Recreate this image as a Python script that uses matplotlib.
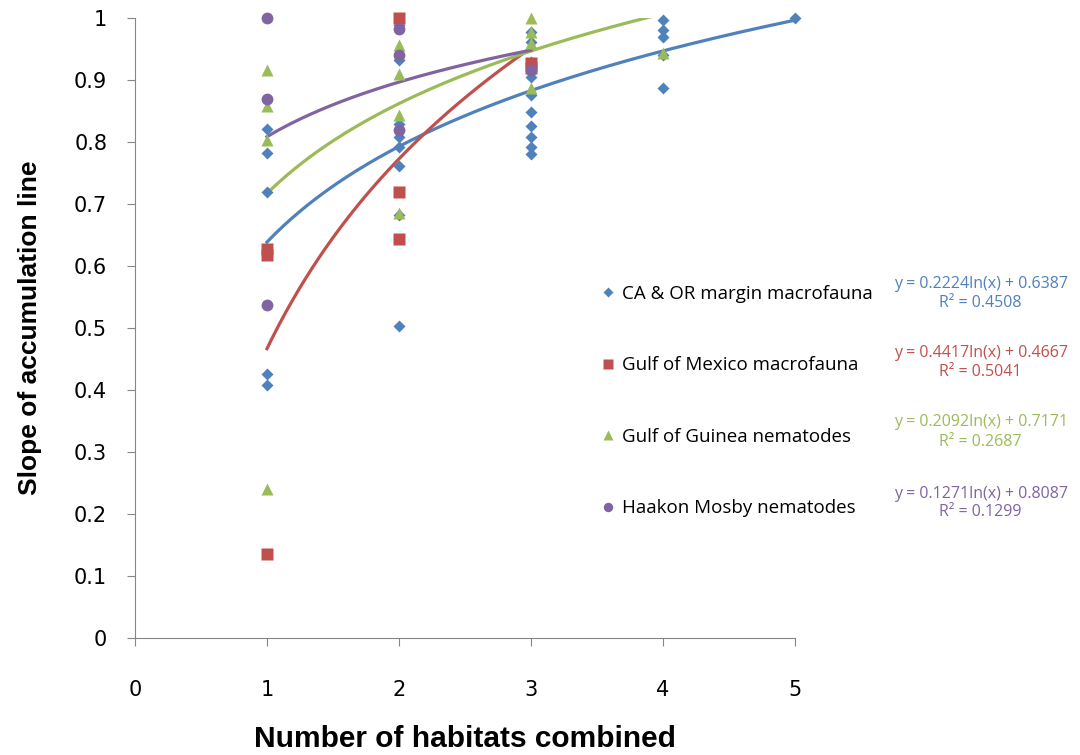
import matplotlib
matplotlib.use("Agg")
import matplotlib.pyplot as plt
import numpy as np

# scatter data: number of habitats combined vs slope of accumulation line
ca_x = [1, 1, 1, 1, 1,
        2, 2, 2, 2, 2, 2, 2, 2,
        3, 3, 3, 3, 3, 3, 3, 3, 3, 3,
        4, 4, 4, 4, 4,
        5]
ca_y = [0.821, 0.782, 0.72, 0.426, 0.408,
        0.989, 0.932, 0.829, 0.809, 0.792, 0.762, 0.683, 0.503,
        0.978, 0.962, 0.93, 0.905, 0.876, 0.848, 0.826, 0.809, 0.792, 0.78,
        0.997, 0.981, 0.969, 0.94, 0.887,
        1.0]

gm_x = [1, 1, 1, 2, 2, 2, 3, 3]
gm_y = [0.628, 0.618, 0.135, 1.0, 0.72, 0.644, 0.927, 0.92]

gg_x = [1, 1, 1, 1, 2, 2, 2, 2, 3, 3, 3, 3, 4]
gg_y = [0.917, 0.858, 0.803, 0.241, 0.956, 0.91, 0.844, 0.686,
        1.0, 0.978, 0.96, 0.888, 0.943]

hm_x = [1, 1, 1, 2, 2, 2, 3]
hm_y = [1.0, 0.869, 0.537, 0.982, 0.94, 0.82, 0.916]

labels = ["CA & OR margin macrofauna", "Gulf of Mexico macrofauna",
          "Gulf of Guinea nematodes", "Haakon Mosby nematodes"]
# log trendline coefficients (slope, intercept, R2, x end)
fit_a = [0.2224, 0.4417, 0.2092, 0.1271]
fit_b = [0.6387, 0.4667, 0.7171, 0.8087]
fit_r2 = [0.4508, 0.5041, 0.2687, 0.1299]
fit_end = [5, 3, 4, 3]

colors = ["#4F81BD", "#C0504D", "#9BBB59", "#8064A2"]
markers = ["D", "s", "^", "o"]
msizes = [6, 8.5, 8.5, 8.5]

fig = plt.figure(figsize=(10.8, 7.55), dpi=100)
ax = fig.add_axes([0.125, 0.155, 0.611, 0.821])

series = [(ca_x, ca_y), (gm_x, gm_y), (gg_x, gg_y), (hm_x, hm_y)]
handles = []
for i, (xs, ys) in enumerate(series):
    h, = ax.plot(xs, ys, linestyle="none", marker=markers[i], ms=msizes[i],
                 color=colors[i], mec="none", clip_on=False, zorder=3,
                 label=labels[i])
    handles.append(h)

for i in range(4):
    xx = np.linspace(1, fit_end[i], 200)
    ax.plot(xx, fit_a[i] * np.log(xx) + fit_b[i], color=colors[i], lw=2.3,
            zorder=2)

ax.set_xlim(0, 5)
ax.set_ylim(0, 1)
ax.set_xticks(range(6))
ax.set_yticks(np.arange(0, 1.01, 0.1))
ax.set_yticklabels(["0", "0.1", "0.2", "0.3", "0.4", "0.5", "0.6", "0.7",
                    "0.8", "0.9", "1"])
for s in ["top", "right"]:
    ax.spines[s].set_visible(False)
for s in ["left", "bottom"]:
    ax.spines[s].set_color("#868686")
ax.tick_params(axis="both", colors="#868686", length=6, labelsize=15,
               labelcolor="black")
ax.tick_params(axis="x", pad=24)
ax.tick_params(axis="y", pad=14)

ax.set_xlabel("Number of habitats combined", fontsize=21.5, fontweight="bold",
              family="Liberation Sans", labelpad=18)
ax.set_ylabel("Slope of accumulation line", fontsize=19, fontweight="bold",
              family="Liberation Sans", labelpad=23)

fig.legend(handles=[plt.Line2D([], [], ls="none", marker=markers[i],
                               ms=msizes[i] * 0.8, color=colors[i], mec="none")
                    for i in range(4)],
           labels=labels, loc="upper left", bbox_to_anchor=(0.542, 0.645),
           frameon=False, labelspacing=2.85, handlelength=0.6,
           handletextpad=0.45, prop={"family": "Open Sans", "size": 13.5})

eq_y = [294, 363, 432, 503]
for i in range(4):
    fig.text(0.908, 1 - eq_y[i] / 755,
             "y = %.4fln(x) + %.4f\nR² = %.4f" % (fit_a[i], fit_b[i], fit_r2[i]),
             color=colors[i], ha="center", va="center", fontsize=11.5,
             family="Open Sans", linespacing=1.25)

fig.savefig("out.png", dpi=100)
